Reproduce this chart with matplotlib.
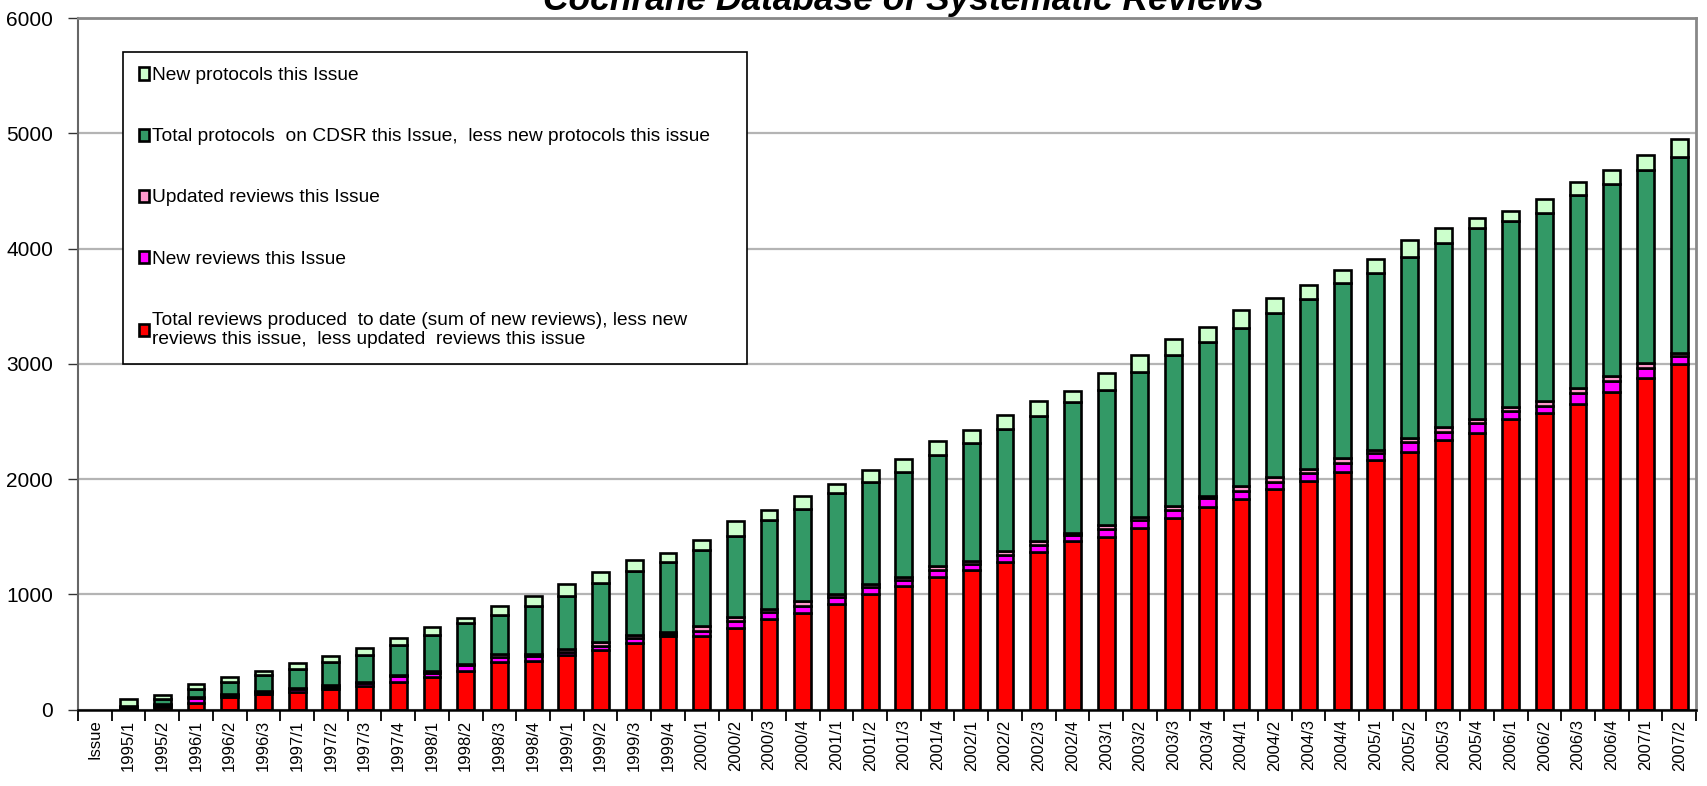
import numpy as np
import matplotlib.pyplot as plt

plt.rcParams['font.family'] = ['Liberation Sans', 'DejaVu Sans']

issues = ["1995/1", "1995/2", "1996/1", "1996/2", "1996/3",
          "1997/1", "1997/2", "1997/3", "1997/4",
          "1998/1", "1998/2", "1998/3", "1998/4",
          "1999/1", "1999/2", "1999/3", "1999/4",
          "2000/1", "2000/2", "2000/3", "2000/4",
          "2001/1", "2001/2", "2001/3", "2001/4",
          "2002/1", "2002/2", "2002/3", "2002/4",
          "2003/1", "2003/2", "2003/3", "2003/4",
          "2004/1", "2004/2", "2004/3", "2004/4",
          "2005/1", "2005/2", "2005/3", "2005/4",
          "2006/1", "2006/2", "2006/3", "2006/4",
          "2007/1", "2007/2"]
tick_labels = ["Issue"] + issues

# total reviews to date, less new and updated reviews this issue
reviews_base = [5, 25, 60, 113, 133, 156, 176, 205, 243, 280, 335, 416, 422,
                472, 522, 580, 638, 644, 711, 790, 842, 921, 1003, 1076, 1148,
                1213, 1278, 1372, 1467, 1496, 1580, 1662, 1763, 1827, 1914, 1981, 2065,
                2165, 2234, 2337, 2405, 2526, 2577, 2653, 2759, 2880, 2997]
new_reviews = [15, 15, 40, 15, 20, 20, 20, 25, 50, 35, 55, 40, 45,
               28, 35, 45, 20, 40, 60, 55, 55, 55, 60, 50, 60,
               50, 65, 58, 45, 72, 65, 72, 72, 72, 64, 72, 72,
               62, 86, 76, 79, 69, 58, 96, 96, 86, 76]
updated_reviews = [5, 10, 10, 10, 10, 10, 15, 15, 10, 20, 10, 25, 20,
                   25, 35, 25, 15, 40, 35, 30, 45, 30, 30, 25, 35,
                   30, 30, 30, 25, 35, 30, 35, 23, 38, 38, 38, 43,
                   30, 41, 41, 41, 31, 45, 45, 41, 41, 24]
protocols_base = [10, 45, 70, 100, 135, 170, 200, 230, 255, 315, 355, 345, 410,
                  460, 510, 550, 610, 660, 700, 770, 800, 870, 885, 915, 970,
                  1020, 1060, 1087, 1131, 1170, 1254, 1305, 1334, 1378, 1430, 1470, 1523,
                  1530, 1567, 1594, 1650, 1615, 1633, 1673, 1664, 1673, 1696]
new_protocols = [55, 30, 45, 45, 40, 46, 54, 63, 63, 70, 45, 73, 88,
                 110, 91, 103, 78, 88, 134, 90, 112, 82, 105, 108, 120,
                 117, 125, 130, 96, 150, 148, 139, 128, 150, 130, 122, 116,
                 124, 144, 127, 93, 89, 120, 110, 124, 131, 155]

series = [
    (reviews_base, "#ff0000",
     "Total reviews produced  to date (sum of new reviews), less new\nreviews this issue,  less updated  reviews this issue"),
    (new_reviews, "#ff00ff", "New reviews this Issue"),
    (updated_reviews, "#ff99cc", "Updated reviews this Issue"),
    (protocols_base, "#339966", "Total protocols  on CDSR this Issue,  less new protocols this issue    "),
    (new_protocols, "#ccffcc", "New protocols this Issue"),
]

fig = plt.figure(figsize=(17.08, 7.86), dpi=100)
ax = fig.add_axes([0.0457, 0.097, 0.9473, 0.88])

x = np.arange(1, len(issues) + 1)
bottom = np.zeros(len(issues))
handles = []
for vals, col, lab in series:
    vals = np.array(vals, dtype=float)
    h = ax.bar(x, vals, 0.5, bottom=bottom, color=col, edgecolor="black",
               linewidth=1.9, label=lab, zorder=3)
    handles.append(h)
    bottom += vals

ax.set_ylim(0, 6000)
ax.set_xlim(-0.5, len(tick_labels) - 0.5)
ax.set_yticks(range(0, 6001, 1000))
ax.tick_params(axis="y", labelsize=15, length=7, width=1, pad=11,
               colors="#333333", labelcolor="black")
ax.set_xticks(range(len(tick_labels)))
ax.set_xticklabels(tick_labels, rotation=90, fontsize=12)
ax.tick_params(axis="x", which="major", length=0, pad=7)
ax.set_xticks(np.arange(-0.5, len(tick_labels)), minor=True)
ax.tick_params(axis="x", which="minor", length=8, width=1.3, color="black")

ax.yaxis.grid(True, color="#b4b4b4", linewidth=1.6, zorder=0)
for s in ["top", "right"]:
    ax.spines[s].set_color("#888888")
    ax.spines[s].set_linewidth(2)
ax.spines["left"].set_color("#666666")
ax.spines["left"].set_linewidth(1.5)
ax.spines["bottom"].set_color("black")
ax.spines["bottom"].set_linewidth(1.8)
ax.spines["bottom"].set_zorder(4)

leg = ax.legend(handles[::-1], [s[2] for s in series[::-1]],
                loc="upper left", bbox_to_anchor=(0.028, 0.951),
                fontsize=13.8, frameon=True, fancybox=False, edgecolor="black",
                framealpha=1, handlelength=0.55, handleheight=0.6, handletextpad=0.15,
                labelspacing=2.3, borderpad=0.8, borderaxespad=0)
leg.get_frame().set_linewidth(1.2)
leg.set_zorder(5)

fig.text(0.529, 1 - 10 / 786, "Cochrane Database of Systematic Reviews",
         ha="center", va="baseline", fontsize=25.5, fontweight="bold", fontstyle="italic")

fig.savefig("out.png", dpi=100)
